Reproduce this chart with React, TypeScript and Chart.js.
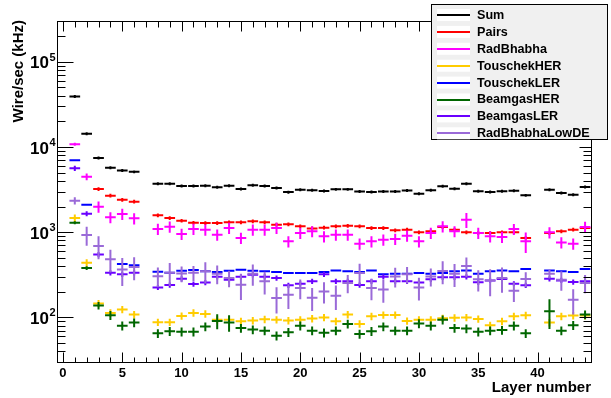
import React, { useEffect, useRef } from "react";
import { Chart, registerables } from "chart.js";

Chart.register(...registerables);

// ---------- data ----------
const layers = [1, 2, 3, 4, 5, 6, 8, 9, 10, 11, 12, 13, 14, 15, 16, 17, 18, 19, 20, 21, 22, 23, 24, 25, 26, 27, 28, 29, 30, 31, 32, 33, 34, 35, 36, 37, 38, 39, 41, 42, 43, 44];

const sumValues = [39000, 14300, 7400, 5700, 5300, 5100, 3700, 3700, 3480, 3480, 3500, 3360, 3510, 3210, 3550, 3480, 3300, 2950, 3150, 3100, 3040, 3180, 3180, 3000, 2960, 3000, 3000, 3080, 2830, 3100, 3450, 3240, 3700, 3015, 2960, 3015, 3070, 2705, 3155, 2880, 2755, 3390];
const pairsValues = [null, null, 3210, 2680, 2400, 2280, 1575, 1465, 1364, 1292, 1282, 1282, 1304, 1304, 1340, 1304, 1225, 1235, 1170, 1108, 1130, 1170, 1190, 1170, 1120, 1120, 1052, 1070, 995, 1023, 1150, 1070, 995, 977, 977, 995, 995, 855, 977, 1023, 1070, 1120];
const radBhabhaValues = [10740, 4480, 1990, 1494, 1633, 1452, 1089, 1159, 951, 1089, 1069, 935, 1119, 855, 1069, 1069, 1119, 780, 977, 1023, 893, 935, 935, 733, 780, 817, 831, 909, 780, 977, 1170, 1023, 1403, 977, 893, 880, 1088, 780, 995, 759, 733, 1150];
const touschekHERValues = [1466, 438, 146, 113, 124, 108, 88, 88, 104, 113, 110, 94, 94, 90, 92, 95, 94, 92, 94, 97, 100, 90, 108, 84, 103, 107, 107, 91, 94, 94, 98, 99, 100, 96, 81, 90, 103, 106, 87, 103, 105, 105];
const touschekLERValues = [6970, 2100, null, null, 423, 408, 344, 334, 353, 359, 347, 340, 353, 363, 353, 347, 340, 332, 332, 332, 340, 356, 347, 340, 356, 320, 326, 326, 332, 326, 332, 347, 356, 326, 347, 356, 347, 370, 356, 347, 341, 370];
const beamgasHERValues = [1292, 380, 138, 106, 80, 87, 65, 69, 68, 68, 78, 91, 87, 75, 72, 70, 61, 67, 80, 70, 66, 70, 84, 64, 69, 78, 70, 70, 85, 80, 94, 75, 74, 68, 70, 71, 80, 65, 118, 70, 81, 108];
const beamgasLERValues = [5610, 1650, 548, 334, 320, 334, 225, 240, 284, 246, 257, 300, 277, 300, 317, 300, 290, 238, 248, 265, 320, 265, 265, 240, 265, 300, 265, 265, 257, 280, 296, 296, 300, 258, 272, 282, 249, 238, 284, 272, 260, 265];
const radBhabhaLowDEValues = [2339, 925, 687, 480, 366, 390, 305, 334, 328, 334, 347, 326, 290, 242, 326, 265, 169, 185, 221, 170, 202, 180, 253, 332, 221, 212, 303, 320, 225, 303, 350, 325, 400, 280, 272, 290, 205, 282, 326, 277, 161, 253];

// relative errors (fraction of value)
const sumErr = 0.04;
const pairsErr = 0.05;
const radBhabhaErr = [0.04, 0.09, 0.15, 0.15, 0.15, 0.15, 0.15, 0.15, 0.15, 0.15, 0.15, 0.15, 0.15, 0.15, 0.15, 0.15, 0.15, 0.15, 0.15, 0.15, 0.15, 0.15, 0.15, 0.15, 0.15, 0.15, 0.15, 0.15, 0.15, 0.15, 0.15, 0.15, 0.2, 0.15, 0.15, 0.15, 0.15, 0.27, 0.15, 0.15, 0.15, 0.15];
const touschekHERErr = 0.1;
const touschekLERErr = 0.025;
const beamgasHERErr = [0.04, 0.05, 0.1, 0.12, 0.12, 0.12, 0.12, 0.12, 0.12, 0.12, 0.12, 0.2, 0.22, 0.12, 0.12, 0.12, 0.12, 0.12, 0.12, 0.12, 0.12, 0.12, 0.12, 0.12, 0.12, 0.12, 0.12, 0.12, 0.12, 0.12, 0.12, 0.12, 0.12, 0.12, 0.12, 0.12, 0.12, 0.12, 0.38, 0.12, 0.12, 0.12];
const beamgasLERErr = 0.07;
const radBhabhaLowDEErr = [0.1, 0.25, 0.3, 0.3, 0.36, 0.3, 0.26, 0.3, 0.21, 0.2, 0.28, 0.25, 0.22, 0.34, 0.28, 0.3, 0.34, 0.32, 0.26, 0.3, 0.28, 0.32, 0.24, 0.28, 0.28, 0.3, 0.26, 0.22, 0.3, 0.24, 0.3, 0.3, 0.26, 0.28, 0.35, 0.33, 0.26, 0.2, 0.12, 0.26, 0.33, 0.24];

const seriesLabels = ["Sum", "Pairs", "RadBhabha", "TouschekHER", "TouschekLER", "BeamgasHER", "BeamgasLER", "RadBhabhaLowDE"];
const seriesColors = ["#000000", "#ff0000", "#ff00ff", "#ffcc00", "#0000ff", "#006600", "#6a00ff", "#9a6ad8"];
const seriesValues = [sumValues, pairsValues, radBhabhaValues, touschekHERValues, touschekLERValues, beamgasHERValues, beamgasLERValues, radBhabhaLowDEValues];
const seriesErrors: (number | number[])[] = [sumErr, pairsErr, radBhabhaErr, touschekHERErr, touschekLERErr, beamgasHERErr, beamgasLERErr, radBhabhaLowDEErr];

const xTickLabels = [0, 5, 10, 15, 20, 25, 30, 35, 40];
const yDecades = [2, 3, 4, 5];

const X_MIN = -0.5;
const X_MAX = 44.5;
const Y_MIN = 30;
const Y_MAX = 300000;
const HALF_BIN = 0.45;

const FONT = "'Liberation Sans', Arial, Helvetica, sans-serif";

function errAt(e: number | number[], i: number) {
  return Array.isArray(e) ? e[i] : e;
}

const rootPlugin = {
  id: "rootStyle",
  afterDatasetsDraw(chart: any) {
    const ctx: CanvasRenderingContext2D = chart.ctx;
    const xs = chart.scales.x;
    const ys = chart.scales.y;
    const a = chart.chartArea;

    // error-bar crosses
    ctx.save();
    ctx.beginPath();
    ctx.rect(a.left, a.top, a.right - a.left, a.bottom - a.top);
    ctx.clip();
    ctx.lineWidth = 2;
    ctx.lineCap = "butt";
    chart.data.datasets.forEach((ds: any, di: number) => {
      ctx.strokeStyle = ds.borderColor;
      ds.data.forEach((p: any, i: number) => {
        if (p.y == null) return;
        const e = errAt(seriesErrors[di], i) * p.y;
        const xc = xs.getPixelForValue(p.x);
        const x0 = xs.getPixelForValue(p.x - HALF_BIN);
        const x1 = xs.getPixelForValue(p.x + HALF_BIN);
        const yc = ys.getPixelForValue(p.y);
        ctx.beginPath();
        ctx.moveTo(x0, yc);
        ctx.lineTo(x1, yc);
        ctx.moveTo(xc, ys.getPixelForValue(p.y + e));
        ctx.lineTo(xc, ys.getPixelForValue(Math.max(p.y - e, 1e-3)));
        ctx.stroke();
      });
    });
    ctx.restore();

    // frame
    ctx.save();
    ctx.strokeStyle = "#000";
    ctx.lineWidth = 1;
    const L = Math.round(a.left) + 0.5;
    const R = Math.round(a.right) + 0.5;
    const T = Math.round(a.top) + 0.5;
    const B = Math.round(a.bottom) + 0.5;
    ctx.strokeRect(L, T, R - L, B - T);

    // x ticks (bottom and top)
    ctx.beginPath();
    for (let v = 0; v <= 44; v++) {
      const px = Math.round(xs.getPixelForValue(v)) + 0.5;
      const major = v % 5 === 0;
      const len = major ? 10 : 5;
      ctx.moveTo(px, B);
      ctx.lineTo(px, B - len);
      ctx.moveTo(px, T);
      ctx.lineTo(px, T + (major ? 10 : 6));
    }
    // y ticks (left and right), log
    for (let d = 1; d <= 5; d++) {
      for (let k = 1; k <= 9; k++) {
        const val = k * Math.pow(10, d);
        if (val < Y_MIN || val > Y_MAX) continue;
        const py = Math.round(ys.getPixelForValue(val)) + 0.5;
        const major = k === 1;
        ctx.moveTo(L, py);
        ctx.lineTo(L + (major ? 16 : 8), py);
        ctx.moveTo(R, py);
        ctx.lineTo(R - (major ? 12 : 8), py);
      }
    }
    ctx.stroke();

    // x tick labels
    ctx.fillStyle = "#000";
    ctx.font = `bold 13px ${FONT}`;
    ctx.textAlign = "center";
    ctx.textBaseline = "alphabetic";
    xTickLabels.forEach((v) => {
      ctx.fillText(String(v), xs.getPixelForValue(v), 377);
    });

    // y tick labels 10^n
    yDecades.forEach((n) => {
      const py = ys.getPixelForValue(Math.pow(10, n));
      ctx.font = `bold 17px ${FONT}`;
      ctx.textAlign = "right";
      ctx.textBaseline = "middle";
      ctx.fillText("10", 49, py + 2);
      ctx.font = `bold 11px ${FONT}`;
      ctx.textAlign = "left";
      ctx.fillText(String(n), 49.5, py - 4);
    });

    // axis titles
    ctx.font = `bold 15px ${FONT}`;
    ctx.textAlign = "right";
    ctx.textBaseline = "alphabetic";
    ctx.fillText("Layer number", a.right, 392);

    ctx.save();
    ctx.translate(23, a.top - 1);
    ctx.rotate(-Math.PI / 2);
    ctx.textAlign = "right";
    ctx.textBaseline = "alphabetic";
    ctx.fillText("Wire/sec (kHz)", 0, 0);
    ctx.restore();

    // legend box
    const bx = 431.5, by = 4.5, bw = 176, bh = 135;
    ctx.fillStyle = "#f0f0f0";
    ctx.fillRect(bx, by, bw, bh);
    ctx.strokeStyle = "#000";
    ctx.lineWidth = 1;
    ctx.strokeRect(bx, by, bw, bh);
    chart.data.datasets.forEach((ds: any, i: number) => {
      const yc = 15 + i * 16.9;
      ctx.fillStyle = "#ffffff";
      ctx.fillRect(437, yc - 6, 33, 12);
      ctx.strokeStyle = ds.borderColor;
      ctx.lineWidth = 2;
      ctx.beginPath();
      ctx.moveTo(437, Math.round(yc));
      ctx.lineTo(470, Math.round(yc));
      ctx.stroke();
      ctx.fillStyle = "#000";
      ctx.font = `bold 12.6px ${FONT}`;
      ctx.textAlign = "left";
      ctx.textBaseline = "middle";
      ctx.fillText(ds.label, 477, yc + 0.5);
    });
    ctx.restore();
  },
};

export default function App() {
  const ref = useRef<HTMLCanvasElement | null>(null);

  useEffect(() => {
    if (!ref.current) return;
    const datasets = seriesLabels.map((label, si) => ({
      label,
      borderColor: seriesColors[si],
      backgroundColor: seriesColors[si],
      data: layers.map((x, i) => ({ x, y: seriesValues[si][i] })),
      showLine: false,
      pointRadius: 0,
      pointHoverRadius: 0,
    }));
    const chart = new Chart(ref.current, {
      type: "scatter",
      data: { datasets },
      options: {
        animation: false,
        responsive: false,
        maintainAspectRatio: false,
        devicePixelRatio: 1,
        events: [],
        layout: { padding: { top: 21, right: 20, left: 0, bottom: 0 } },
        plugins: { legend: { display: false }, tooltip: { enabled: false }, title: { display: false } },
        scales: {
          x: {
            type: "linear",
            min: X_MIN,
            max: X_MAX,
            ticks: { display: false },
            grid: { display: false },
            border: { display: false },
            afterFit: (s: any) => {
              s.height = 36;
            },
          },
          y: {
            type: "logarithmic",
            min: Y_MIN,
            max: Y_MAX,
            ticks: { display: false },
            grid: { display: false },
            border: { display: false },
            afterFit: (s: any) => {
              s.width = 57;
            },
          },
        },
      },
      plugins: [rootPlugin],
    } as any);
    return () => chart.destroy();
  }, []);

  return (
    <div style={{ position: "fixed", left: 0, top: 0, width: 611, height: 398, background: "#fff" }}>
      <canvas ref={ref} width={611} height={398} style={{ display: "block" }} />
    </div>
  );
}
